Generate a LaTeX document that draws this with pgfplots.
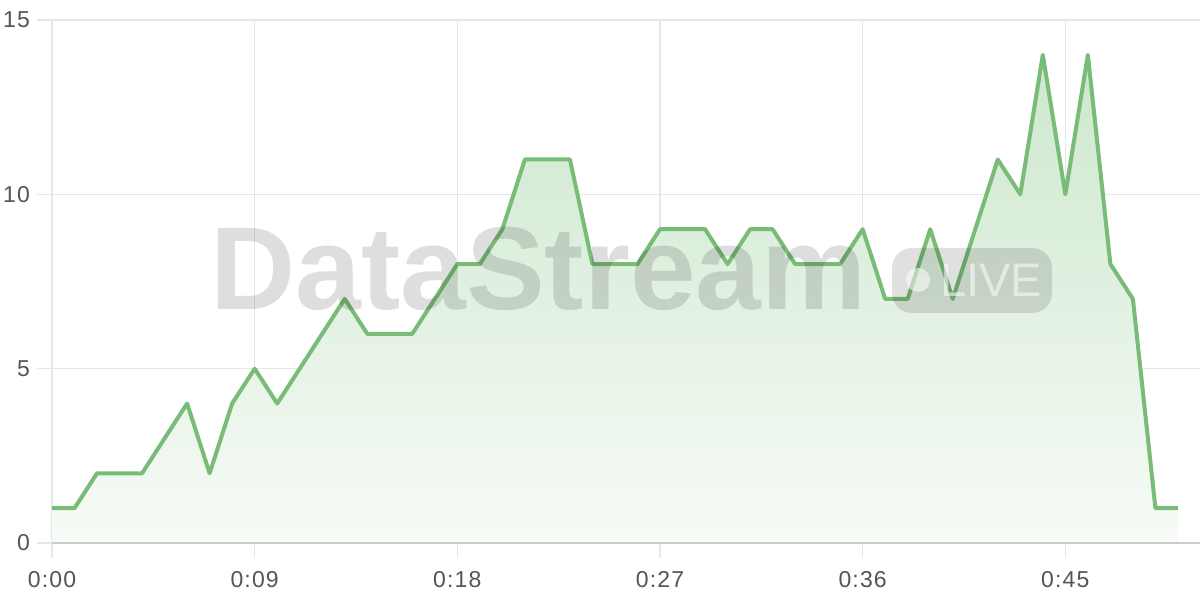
\documentclass[border=0pt]{standalone}
\usepackage{fontspec}
\setmainfont{Liberation Sans}
\usepackage{pgfplots}
\pgfplotsset{compat=1.18}
\usepackage{pgfplotstable}

\definecolor{lineGreen}{RGB}{120,188,120}
\definecolor{fillTop}{RGB}{204,231,204}
\definecolor{fillBot}{RGB}{247,251,247}
\definecolor{gridGray}{RGB}{230,230,230}
\definecolor{axisGray}{RGB}{204,204,204}
\definecolor{labelGray}{RGB}{85,85,85}

% seconds vs. value
\pgfplotstableread{
t v
0 1
1 1
2 2
3 2
4 2
5 3
6 4
7 2
8 4
9 5
10 4
11 5
12 6
13 7
14 6
15 6
16 6
17 7
18 8
19 8
20 9
21 11
22 11
23 11
24 8
25 8
26 8
27 9
28 9
29 9
30 8
31 9
32 9
33 8
34 8
35 8
36 9
37 7
38 7
39 9
40 7
41 9
42 11
43 10
44 14
45 10
46 14
47 8
48 7
49 1
50 1
}\streamdata

\begin{document}
\begin{tikzpicture}
\path[use as bounding box] (-26pt,-28.5pt) rectangle (574pt,271.5pt);
\begin{axis}[
    at={(0,0)}, anchor=south west,
    scale only axis,
    width=574pt, height=261.5pt,
    xmin=0, xmax=50.98,
    ymin=0, ymax=15,
    axis line style={draw=none},
    xtick pos=bottom, ytick pos=left,
    xtick={0,9,18,27,36,45},
    xticklabels={0:00,0:09,0:18,0:27,0:36,0:45},
    ytick={0,5,10,15},
    grid=major,
    major grid style={draw=gridGray, line width=0.6pt},
    tick align=outside,
    major tick length=7.5pt,
    tick style={draw=gridGray, line width=0.6pt},
    /pgf/number format/assume math mode=true,
    ticklabel style={font=\fontsize{11.5}{13}\selectfont\addfontfeature{LetterSpace=5}, text=labelGray},
    xticklabel style={yshift=-3pt},
    clip=false,
]
    \addplot[draw=none, top color=fillTop, bottom color=fillBot]
        table[x=t, y=v] {\streamdata} \closedcycle;
    \draw[axisGray, line width=0.8pt] (rel axis cs:0,0) -- (rel axis cs:1,0);
    \addplot[lineGreen, line width=2pt, line join=round, mark=none]
        table[x=t, y=v] {\streamdata};
\end{axis}
% watermark
\node[anchor=base west, inner sep=0pt, text=black, text opacity=0.13,
      font=\fontsize{59}{60}\selectfont\bfseries] at (79pt,116.5pt) {DataStream};
\fill[black, opacity=0.12, rounded corners=10pt] (420pt,115pt) rectangle (500pt,147.5pt);
\fill[white, opacity=0.55] (433pt,131.5pt) circle (6pt);
\node[anchor=base west, inner sep=0pt, text=white, text opacity=0.55,
      font=\fontsize{23.5}{25}\selectfont] at (444pt,123pt) {LIVE};
\end{tikzpicture}
\end{document}
